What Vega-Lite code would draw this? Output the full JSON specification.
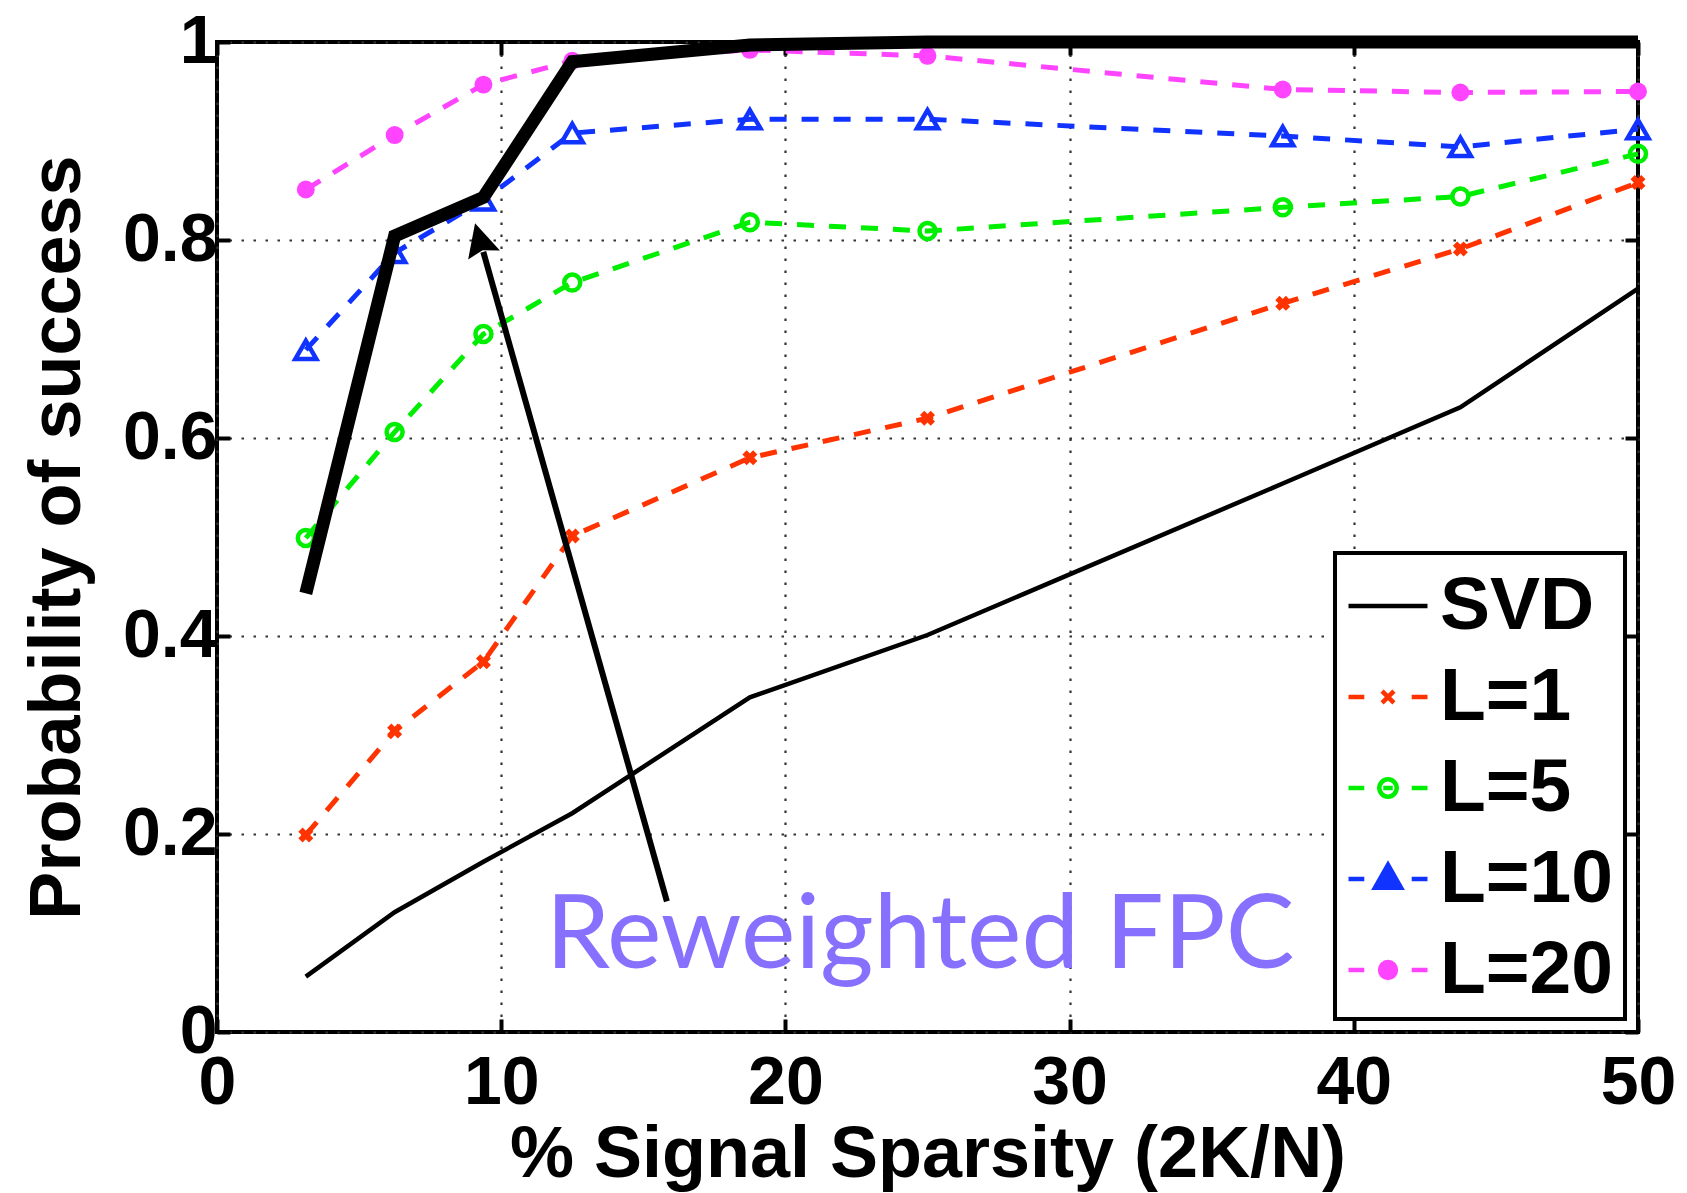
{
  "$schema": "https://vega.github.io/schema/vega-lite/v6.json",
  "width": 1421,
  "height": 990,
  "autosize": {"type": "none"},
  "padding": {"left": 217, "top": 42, "right": 49, "bottom": 161},
  "background": "white",
  "config": {
    "view": {"stroke": "black", "strokeWidth": 4},
    "axis": {
      "domain": false,
      "labelFont": "Liberation Sans",
      "labelFontWeight": "bold",
      "labelFontSize": 68,
      "labelColor": "black",
      "titleFont": "Liberation Sans",
      "titleFontWeight": "bold",
      "titleFontSize": 72,
      "titleColor": "black",
      "tickColor": "black",
      "tickWidth": 4,
      "tickSize": -13,
      "gridColor": "#333333",
      "gridDash": [2.5, 9.5],
      "gridWidth": 2.2,
      "gridOpacity": 1,
      "labelFlush": false,
      "labelOverlap": false
    },
    "legend": {
      "orient": "bottom-right",
      "offset": 13,
      "padding": 11,
      "symbolSize": 6241,
      "symbolStrokeWidth": 4.5,
      "symbolOpacity": 1,
      "labelFont": "Liberation Sans",
      "labelFontSize": 75,
      "labelFontWeight": "bold",
      "labelColor": "black",
      "labelOffset": 10,
      "labelLimit": 400,
      "rowPadding": 11,
      "strokeColor": "black",
      "fillColor": "white"
    }
  },
  "datasets": {
    "curves": [
      {"series": "SVD", "x": 3.125, "y": 0.056},
      {"series": "SVD", "x": 6.25, "y": 0.121},
      {"series": "SVD", "x": 9.375, "y": 0.172},
      {"series": "SVD", "x": 12.5, "y": 0.221},
      {"series": "SVD", "x": 18.75, "y": 0.338},
      {"series": "SVD", "x": 25, "y": 0.401},
      {"series": "SVD", "x": 37.5, "y": 0.554},
      {"series": "SVD", "x": 43.75, "y": 0.631},
      {"series": "SVD", "x": 50, "y": 0.751},
      {"series": "L=1", "x": 3.125, "y": 0.199},
      {"series": "L=1", "x": 6.25, "y": 0.304},
      {"series": "L=1", "x": 9.375, "y": 0.374},
      {"series": "L=1", "x": 12.5, "y": 0.501},
      {"series": "L=1", "x": 18.75, "y": 0.580},
      {"series": "L=1", "x": 25, "y": 0.620},
      {"series": "L=1", "x": 37.5, "y": 0.736},
      {"series": "L=1", "x": 43.75, "y": 0.791},
      {"series": "L=1", "x": 50, "y": 0.858},
      {"series": "L=5", "x": 3.125, "y": 0.499},
      {"series": "L=5", "x": 6.25, "y": 0.606},
      {"series": "L=5", "x": 9.375, "y": 0.705},
      {"series": "L=5", "x": 12.5, "y": 0.757},
      {"series": "L=5", "x": 18.75, "y": 0.818},
      {"series": "L=5", "x": 25, "y": 0.809},
      {"series": "L=5", "x": 37.5, "y": 0.833},
      {"series": "L=5", "x": 43.75, "y": 0.844},
      {"series": "L=5", "x": 50, "y": 0.887},
      {"series": "L=10", "x": 3.125, "y": 0.689},
      {"series": "L=10", "x": 6.25, "y": 0.787},
      {"series": "L=10", "x": 9.375, "y": 0.840},
      {"series": "L=10", "x": 12.5, "y": 0.908},
      {"series": "L=10", "x": 18.75, "y": 0.922},
      {"series": "L=10", "x": 25, "y": 0.922},
      {"series": "L=10", "x": 37.5, "y": 0.905},
      {"series": "L=10", "x": 43.75, "y": 0.894},
      {"series": "L=10", "x": 50, "y": 0.912},
      {"series": "L=20", "x": 3.125, "y": 0.851},
      {"series": "L=20", "x": 6.25, "y": 0.906},
      {"series": "L=20", "x": 9.375, "y": 0.957},
      {"series": "L=20", "x": 12.5, "y": 0.981},
      {"series": "L=20", "x": 18.75, "y": 0.992},
      {"series": "L=20", "x": 25, "y": 0.986},
      {"series": "L=20", "x": 37.5, "y": 0.952},
      {"series": "L=20", "x": 43.75, "y": 0.949},
      {"series": "L=20", "x": 50, "y": 0.950},
      {"series": "FPC", "x": 3.125, "y": 0.443},
      {"series": "FPC", "x": 6.25, "y": 0.804},
      {"series": "FPC", "x": 9.375, "y": 0.843},
      {"series": "FPC", "x": 12.5, "y": 0.980},
      {"series": "FPC", "x": 18.75, "y": 0.997},
      {"series": "FPC", "x": 25, "y": 1.0},
      {"series": "FPC", "x": 37.5, "y": 1.0},
      {"series": "FPC", "x": 43.75, "y": 1.0},
      {"series": "FPC", "x": 50, "y": 1.0}
    ],
    "legendrows": [
      {"series": "SVD", "x": 0, "y": 0},
      {"series": "L=1", "x": 0, "y": 0},
      {"series": "L=5", "x": 0, "y": 0},
      {"series": "L=10", "x": 0, "y": 0},
      {"series": "L=20", "x": 0, "y": 0}
    ],
    "arrow": [
      {"x": 15.83, "y": 0.132, "x2": 9.37, "y2": 0.788, "hx": 9.08, "hy": 0.817}
    ],
    "note": [
      {"x": 24.74, "y": 0.0646, "label": "Reweighted FPC"}
    ]
  },
  "resolve": {"axis": {"x": "independent", "y": "independent"}},
  "layer": [
    {
      "data": {"name": "curves"},
      "transform": [{"filter": "datum.series === 'SVD'"}],
      "mark": {"type": "line", "color": "black", "strokeWidth": 4.5},
      "encoding": {
        "x": {
          "field": "x", "type": "quantitative",
          "scale": {"domain": [0, 50], "nice": false},
          "axis": {"values": [0, 10, 20, 30, 40, 50], "title": "% Signal Sparsity (2K/N)", "grid": true, "labelPadding": 30, "titlePadding": 2}
        },
        "y": {
          "field": "y", "type": "quantitative",
          "scale": {"domain": [0, 1], "nice": false},
          "axis": {"values": [0, 0.2, 0.4, 0.6, 0.8, 1], "format": "~g", "title": "Probability of success", "grid": true, "labelPadding": 13, "titlePadding": 28}
        }
      }
    },
    {
      "data": {"name": "curves"},
      "transform": [{"filter": "datum.series !== 'SVD' && datum.series !== 'FPC'"}],
      "mark": {"type": "line", "strokeWidth": 5, "strokeDash": [17, 15]},
      "encoding": {
        "x": {"field": "x", "type": "quantitative", "axis": {"orient": "top", "values": [0, 10, 20, 30, 40, 50], "labels": false, "grid": false, "title": null}},
        "y": {"field": "y", "type": "quantitative", "axis": {"orient": "right", "values": [0, 0.2, 0.4, 0.6, 0.8, 1], "labels": false, "grid": false, "title": null}},
        "color": {
          "field": "series", "type": "nominal",
          "scale": {"domain": ["L=1", "L=5", "L=10", "L=20"], "range": ["#FF3300", "#00EE00", "#1133FF", "#FF44FF"]},
          "legend": null
        },
        "detail": {"field": "series"}
      }
    },
    {
      "data": {"name": "curves"},
      "transform": [{"filter": "datum.series === 'L=1'"}],
      "mark": {"type": "point", "shape": "cross", "angle": 45, "filled": true, "color": "#FF3300", "size": 230, "opacity": 1},
      "encoding": {
        "x": {"field": "x", "type": "quantitative", "axis": null},
        "y": {"field": "y", "type": "quantitative", "axis": null}
      }
    },
    {
      "data": {"name": "curves"},
      "transform": [{"filter": "datum.series === 'L=5'"}],
      "mark": {"type": "point", "shape": "circle", "filled": false, "color": "#00EE00", "size": 256, "strokeWidth": 4.5, "opacity": 1},
      "encoding": {
        "x": {"field": "x", "type": "quantitative", "axis": null},
        "y": {"field": "y", "type": "quantitative", "axis": null}
      }
    },
    {
      "data": {"name": "curves"},
      "transform": [{"filter": "datum.series === 'L=10'"}],
      "mark": {"type": "point", "shape": "triangle-up", "filled": false, "color": "#1133FF", "size": 441, "strokeWidth": 4.5, "opacity": 1},
      "encoding": {
        "x": {"field": "x", "type": "quantitative", "axis": null},
        "y": {"field": "y", "type": "quantitative", "axis": null}
      }
    },
    {
      "data": {"name": "curves"},
      "transform": [{"filter": "datum.series === 'L=20'"}],
      "mark": {"type": "point", "shape": "circle", "filled": true, "color": "#FF44FF", "size": 320, "opacity": 1},
      "encoding": {
        "x": {"field": "x", "type": "quantitative", "axis": null},
        "y": {"field": "y", "type": "quantitative", "axis": null}
      }
    },
    {
      "data": {"name": "curves"},
      "transform": [{"filter": "datum.series === 'FPC'"}],
      "mark": {"type": "line", "color": "black", "strokeWidth": 13, "strokeJoin": "miter", "strokeCap": "butt"},
      "encoding": {
        "x": {"field": "x", "type": "quantitative", "axis": null},
        "y": {"field": "y", "type": "quantitative", "axis": null}
      }
    },
    {
      "data": {"name": "arrow"},
      "mark": {"type": "rule", "color": "black", "strokeWidth": 6},
      "encoding": {
        "x": {"field": "x", "type": "quantitative", "axis": null},
        "y": {"field": "y", "type": "quantitative", "axis": null},
        "x2": {"field": "x2"},
        "y2": {"field": "y2"}
      }
    },
    {
      "data": {"name": "arrow"},
      "mark": {"type": "point", "shape": "M0,0L-0.5,1L0,0.85L0.5,1Z", "filled": true, "color": "black", "size": 4356, "angle": 344.2, "opacity": 1},
      "encoding": {
        "x": {"field": "hx", "type": "quantitative", "axis": null},
        "y": {"field": "hy", "type": "quantitative", "axis": null}
      }
    },
    {
      "data": {"name": "note"},
      "mark": {"type": "text", "font": "Lato", "fontSize": 103, "color": "#8870FF", "align": "center", "baseline": "alphabetic"},
      "encoding": {
        "x": {"field": "x", "type": "quantitative", "axis": null},
        "y": {"field": "y", "type": "quantitative", "axis": null},
        "text": {"field": "label"}
      }
    },
    {
      "data": {"name": "legendrows"},
      "mark": {"type": "point", "filled": true, "opacity": 0, "strokeWidth": 4.5},
      "encoding": {
        "x": {"field": "x", "type": "quantitative", "axis": null},
        "y": {"field": "y", "type": "quantitative", "axis": null},
        "shape": {
          "field": "series", "type": "nominal",
          "scale": {
            "domain": ["SVD", "L=1", "L=5", "L=10", "L=20"],
            "range": [
              "M-1,0H1",
              "M-1,0H-0.6M0.6,0H1M-0.15,-0.15L0.15,0.15M-0.15,0.15L0.15,-0.15",
              "M-1,0H-0.6M0.6,0H1M0.22,0A0.22,0.22 0 1,1 -0.22,0A0.22,0.22 0 1,1 0.22,0ZM-0.12,0H0.12",
              "M-1,0H-0.6M0.6,0H1M-0.33,0.22L0.33,0.22L0,-0.36Z",
              "M-1,0H-0.6M0.6,0H1M0.2,0A0.2,0.2 0 1,1 -0.2,0A0.2,0.2 0 1,1 0.2,0Z"
            ]
          },
          "legend": {"title": null}
        },
        "stroke": {
          "field": "series", "type": "nominal",
          "scale": {"domain": ["SVD", "L=1", "L=5", "L=10", "L=20"], "range": ["black", "#FF3300", "#00EE00", "#1133FF", "#FF44FF"]},
          "legend": {"title": null}
        },
        "fill": {
          "field": "series", "type": "nominal",
          "scale": {"domain": ["SVD", "L=1", "L=5", "L=10", "L=20"], "range": ["transparent", "#FF3300", "transparent", "#1133FF", "#FF44FF"]},
          "legend": {"title": null, "encode": {"legend": {"update": {"strokeWidth": {"value": 4}}}}}
        }
      }
    }
  ]
}
